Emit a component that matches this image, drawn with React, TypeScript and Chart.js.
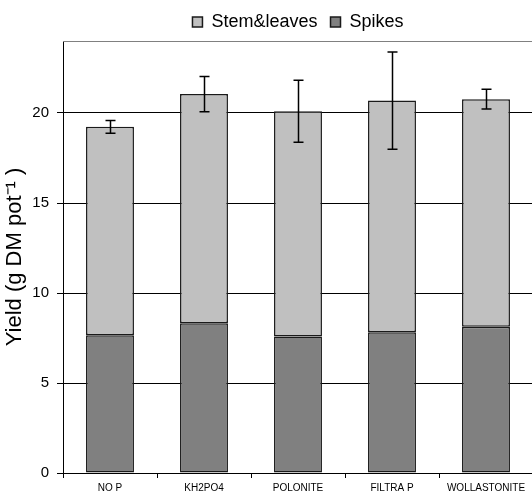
import React, { useEffect, useRef } from 'react';
import { Chart, registerables } from 'chart.js';

Chart.register(...registerables);

const categories = ['NO P', 'KH2PO4', 'POLONITE', 'FILTRA P', 'WOLLASTONITE'];
const spikes = [7.65, 8.32, 7.58, 7.82, 8.12];
const stemLeaves = [11.58, 12.73, 12.52, 12.87, 12.65];
const totalErrors = [0.35, 0.98, 1.72, 2.7, 0.55];
const yTicks = [0, 5, 10, 15, 20];

const FONT = "'Liberation Sans', Arial, sans-serif";

const errorBarPlugin = {
  id: 'errorBars',
  afterDatasetsDraw(chart: any) {
    const { ctx } = chart;
    const y = chart.scales.y;
    const meta = chart.getDatasetMeta(1);
    ctx.save();
    ctx.strokeStyle = '#000';
    ctx.lineWidth = 1.5;
    meta.data.forEach((bar: any, i: number) => {
      const total = spikes[i] + stemLeaves[i];
      const x = Math.round(bar.x) + 0.5;
      const yTop = y.getPixelForValue(total + totalErrors[i]);
      const yBot = y.getPixelForValue(total - totalErrors[i]);
      ctx.beginPath();
      ctx.moveTo(x, yTop);
      ctx.lineTo(x, yBot);
      ctx.moveTo(x - 5, yTop);
      ctx.lineTo(x + 5, yTop);
      ctx.moveTo(x - 5, yBot);
      ctx.lineTo(x + 5, yBot);
      ctx.stroke();
    });
    ctx.restore();
  },
};

const topBorderPlugin = {
  id: 'topBorder',
  beforeDatasetsDraw(chart: any) {
    const { ctx, chartArea } = chart;
    ctx.save();
    ctx.strokeStyle = '#808080';
    ctx.lineWidth = 1;
    ctx.beginPath();
    ctx.moveTo(chartArea.left, Math.round(chartArea.top) + 0.5);
    ctx.lineTo(chartArea.right, Math.round(chartArea.top) + 0.5);
    ctx.stroke();
    ctx.restore();
  },
};

export default function App() {
  const canvasRef = useRef<HTMLCanvasElement | null>(null);

  useEffect(() => {
    if (!canvasRef.current) return;
    const chart = new Chart(canvasRef.current, {
      type: 'bar',
      data: {
        labels: categories,
        datasets: [
          {
            label: 'Spikes',
            data: spikes,
            backgroundColor: '#808080',
            borderColor: '#1a1a1a',
            borderWidth: 1.5,
            borderSkipped: false,
            barPercentage: 0.51,
            categoryPercentage: 1,
          },
          {
            label: 'Stem&leaves',
            data: stemLeaves,
            backgroundColor: '#c0c0c0',
            borderColor: '#1a1a1a',
            borderWidth: 1.5,
            borderSkipped: false,
            barPercentage: 0.51,
            categoryPercentage: 1,
          },
        ],
      },
      options: {
        responsive: false,
        animation: false,
        devicePixelRatio: 1,
        layout: { padding: { left: 0, right: 1, top: 0, bottom: 0 } },
        plugins: {
          legend: {
            position: 'top',
            fullSize: false,
            reverse: true,
            labels: {
              font: { family: FONT, size: 18 },
              color: '#000',
              boxWidth: 10,
              boxHeight: 10,
              padding: 13,
            },
          },
          tooltip: { enabled: false },
        },
        scales: {
          x: {
            stacked: true,
            grid: { offset: true, drawOnChartArea: false, drawTicks: true, tickLength: 5, color: '#000' },
            border: { color: '#000', width: 1 },
            ticks: { font: { family: FONT, size: 10 }, color: '#000', padding: 4, maxRotation: 0, autoSkip: false },
            afterFit(s: any) {
              s.height = 19;
            },
          },
          y: {
            stacked: true,
            min: 0,
            max: 24,
            ticks: { stepSize: 5, font: { family: FONT, size: 15 }, color: '#000', padding: 8 },
            afterBuildTicks(s: any) {
              s.ticks = yTicks.map((v) => ({ value: v }));
            },
            grid: { color: '#000', tickLength: 6 },
            border: { color: '#000' },
            title: {
              display: true,
              text: 'Yield (g DM pot⁻¹ )',
              font: { family: FONT, size: 22 },
              color: '#000',
              padding: { top: 2, bottom: 0 },
            },
            afterFit(s: any) {
              s.width = 63;
            },
          },
        },
      },
      plugins: [topBorderPlugin, errorBarPlugin],
    } as any);
    return () => chart.destroy();
  }, []);

  return (
    <div style={{ position: 'absolute', left: 0, top: 0, width: 532, height: 492, overflow: 'hidden', background: '#fff' }}>
      <canvas ref={canvasRef} width={534} height={492} style={{ display: 'block' }} />
    </div>
  );
}
